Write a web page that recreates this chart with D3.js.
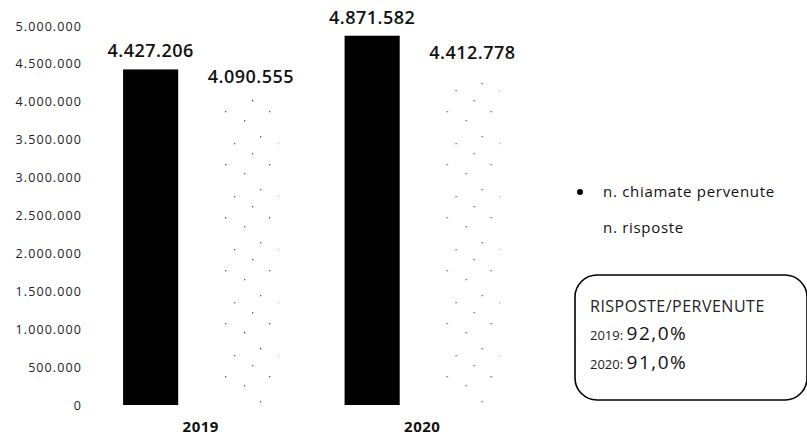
<!DOCTYPE html>
<html>
<head>
<meta charset="utf-8">
<script src="https://cdn.jsdelivr.net/npm/d3@7"></script>
<style>
  body { margin: 0; background: #fff; }
  text { font-family: "Open Sans", "Noto Sans", sans-serif; fill: #111; }
</style>
</head>
<body>
<div id="chart"></div>
<script>
// DATA
const years = ['2019', '2020'];
const seriesNames = ['n. chiamate pervenute', 'n. risposte'];
const chiamate = [4427206, 4871582];
const risposte = [4090555, 4412778];
const yTicks = [0, 500000, 1000000, 1500000, 2000000, 2500000, 3000000, 3500000, 4000000, 4500000, 5000000];
const boxTitle = 'RISPOSTE/PERVENUTE';
const ratios = ['92,0%', '91,0%'];

document.addEventListener('DOMContentLoaded', function(){
  drawChart();
});

// formatIt
// number with dots as thousand separator
const itLocale = d3.formatLocale({decimal: ',', thousands: '.', grouping: [3], currency: ['', '€']});
const formatIt = itLocale.format(',d');

function drawChart() {
  const width = 807;
  const height = 436;

  let svg = d3.select('#chart').append('svg')
    .attr('width', width)
    .attr('height', height);

  // sparse dotted pattern for the "risposte" bars
  let defs = svg.append('defs');
  let pat = defs.append('pattern')
    .attr('id', 'dots')
    .attr('patternUnits', 'userSpaceOnUse')
    .attr('width', 44).attr('height', 53);
  [[3, 5], [22, 14], [38, 30], [12, 37], [30, 47]].forEach(p => {
    pat.append('rect').attr('x', p[0]).attr('y', p[1]).attr('width', 1.3).attr('height', 1.3).attr('fill', '#555');
  });

  // SCALES
  let y = d3.scaleLinear().domain([0, 5000000]).range([405, 26]);
  let x0 = d3.scaleBand().domain(years).range([90, 533]);
  let x1 = d3.scaleBand().domain(seriesNames).range([0, x0.bandwidth()])
    .paddingInner(0.45).paddingOuter(0.33);

  // AXIS (labels only)
  let yAxis = d3.axisLeft(y).tickValues(yTicks).tickSize(0).tickPadding(0)
    .tickFormat(d => formatIt(d));
  let axisG = svg.append('g').attr('transform', 'translate(82,0)').call(yAxis);
  axisG.select('.domain').remove();
  axisG.selectAll('text')
    .style('font-family', '"Open Sans", sans-serif')
    .style('font-size', '12.5px')
    .style('letter-spacing', '1.1px')
    .style('fill', '#222');

  // BARS
  let rows = years.map((yr, i) => ({year: yr, values: [chiamate[i], risposte[i]]}));
  let groups = svg.selectAll('.group')
    .data(rows)
    .enter()
    .append('g')
    .attr('class', 'group')
    .attr('transform', d => 'translate(' + x0(d.year) + ',0)');

  groups.selectAll('rect')
    .data(d => d.values.map((v, k) => ({key: seriesNames[k], value: v})))
    .enter()
    .append('rect')
    .attr('x', d => x1(d.key))
    .attr('y', d => y(d.value))
    .attr('width', x1.bandwidth())
    .attr('height', d => y(0) - y(d.value))
    .attr('fill', d => d.key === seriesNames[0] ? '#000' : 'url(#dots)');

  groups.selectAll('.val')
    .data(d => d.values.map((v, k) => ({key: seriesNames[k], value: v})))
    .enter()
    .append('text')
    .attr('class', 'val')
    .attr('x', d => x1(d.key) + x1.bandwidth() / 2)
    .attr('y', d => y(d.value) - 12)
    .attr('text-anchor', 'middle')
    .style('font-size', '18px')
    .style('font-weight', 600)
    .style('letter-spacing', '0.5px')
    .text(d => formatIt(d.value));

  groups.append('text')
    .attr('x', x0.bandwidth() / 2)
    .attr('y', 432)
    .attr('text-anchor', 'middle')
    .style('font-size', '15px')
    .style('font-weight', 700)
    .style('letter-spacing', '0.5px')
    .text(d => d.year);

  // LEGEND
  let legend = svg.append('g').attr('transform', 'translate(580,0)');
  legend.append('circle').attr('cx', 0).attr('cy', 192).attr('r', 3).attr('fill', '#000');
  legend.append('text').attr('x', 23).attr('y', 197)
    .style('font-size', '15px').style('letter-spacing', '0.7px').text(seriesNames[0]);
  legend.append('text').attr('x', 23).attr('y', 233)
    .style('font-size', '15px').style('letter-spacing', '0.7px').text(seriesNames[1]);

  // RATIO BOX
  let box = svg.append('g');
  box.append('rect')
    .attr('x', 575).attr('y', 275)
    .attr('width', 232).attr('height', 125)
    .attr('rx', 22).attr('ry', 22)
    .attr('fill', 'none').attr('stroke', '#000').attr('stroke-width', 1.6);
  box.append('text').attr('x', 590).attr('y', 312)
    .style('font-size', '16px').style('letter-spacing', '0.5px').style('fill', '#222').text(boxTitle);
  years.forEach((yr, i) => {
    let t = box.append('text').attr('x', 590).attr('y', 340 + i * 29);
    t.append('tspan').style('font-size', '13px').style('fill', '#222').text(yr + ': ');
    t.append('tspan').style('font-size', '19px').style('letter-spacing', '1.5px').style('fill', '#111').text(ratios[i]);
  });
}
</script>
</body>
</html>
